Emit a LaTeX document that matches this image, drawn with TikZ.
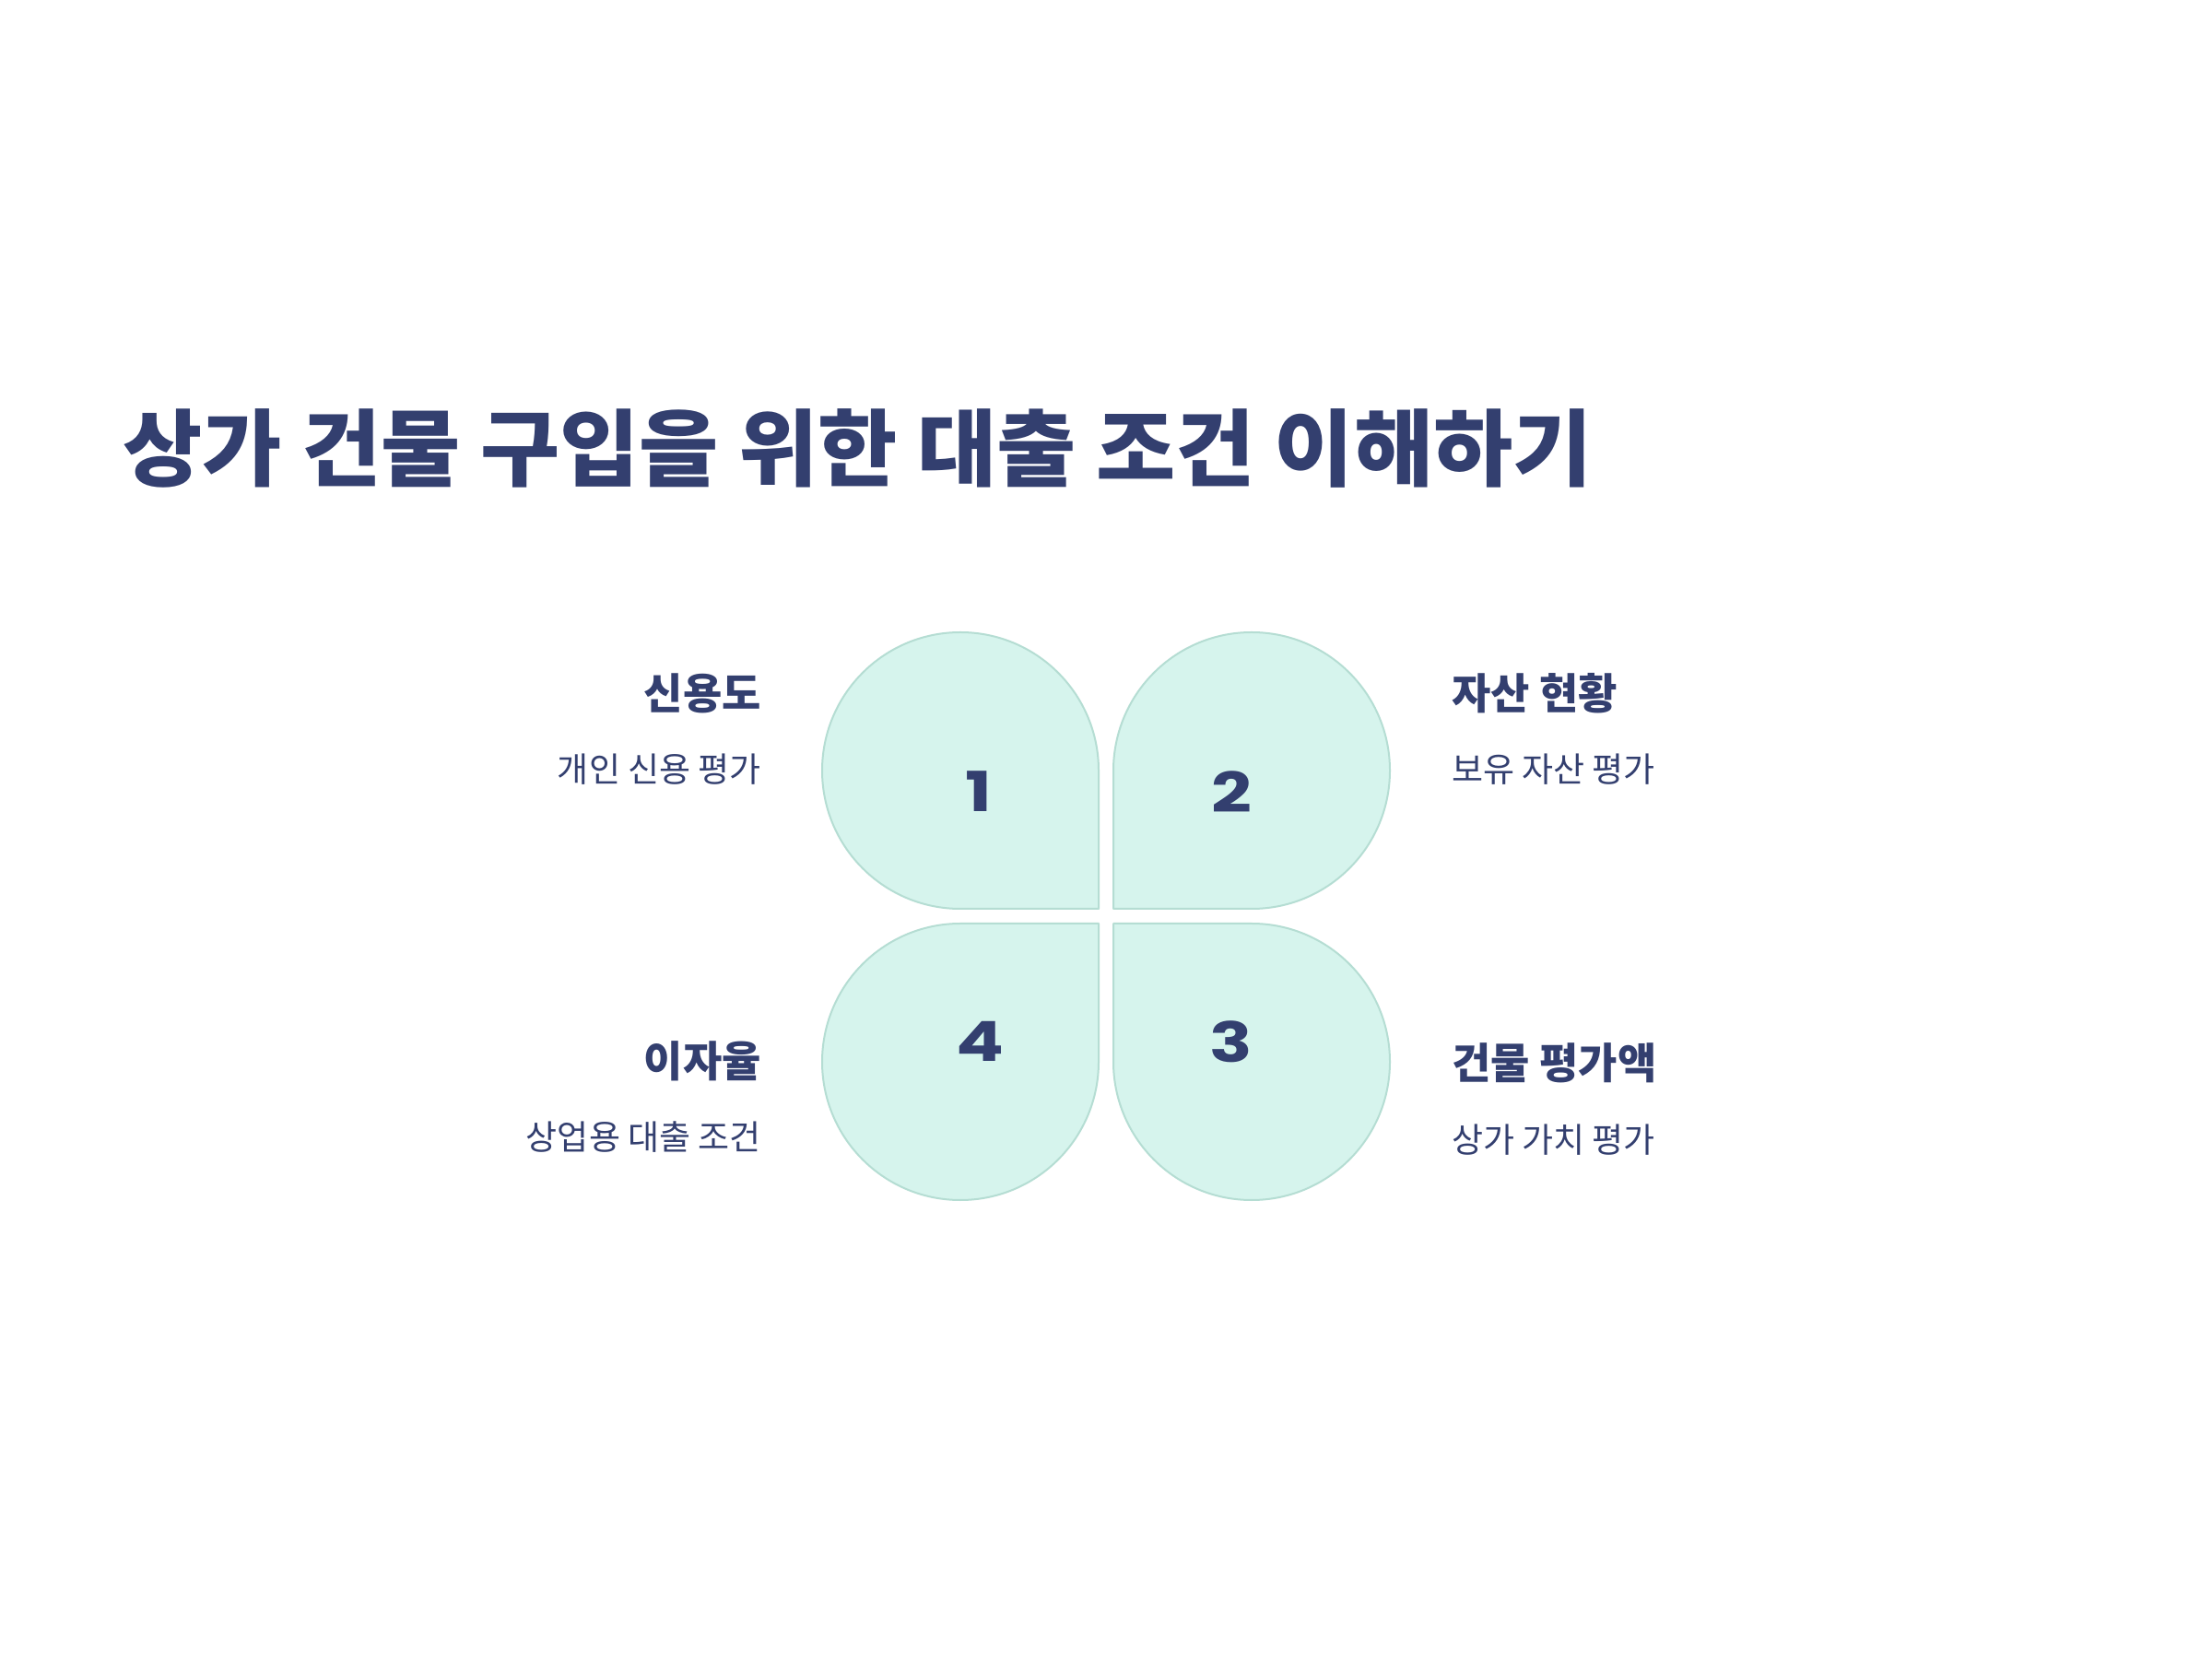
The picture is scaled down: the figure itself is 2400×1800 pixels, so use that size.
\documentclass[tikz,border=0pt]{standalone}
\usepackage{fontspec}
\newfontfamily\kr{Noto Sans CJK KR}
\newfontfamily\numf{Poppins}
\definecolor{navy}{HTML}{333F6F}
\definecolor{mint}{HTML}{D6F4ED}
\definecolor{mintline}{HTML}{B5DDD3}
\tikzset{
  petal/.style={fill=mint, draw=mintline, line width=2pt, line join=round},
  num/.style={text=navy, inner sep=0pt, font=\numf\bfseries\fontsize{60}{60}\selectfont},
  ttl/.style={text=navy, inner sep=0pt, font=\kr\bfseries\fontsize{91}{100}\selectfont},
  head/.style={text=navy, inner sep=0pt, font=\kr\bfseries\fontsize{46}{50}\selectfont},
  sub/.style={text=navy, inner sep=0pt, font=\kr\fontsize{37}{40}\selectfont}
}
\begin{document}
\begin{tikzpicture}[x=1pt,y=1pt]
\useasboundingbox (0,0) rectangle (2400,1800);
\fill[white] (0,0) rectangle (2400,1800);
% petals
\draw[petal] (1192,964) arc[start angle=0,end angle=270,radius=150] -- (1192,814) -- cycle;
\draw[petal] (1358,814) arc[start angle=-90,end angle=180,radius=150] -- (1208,814) -- cycle;
\draw[petal] (1208,648) arc[start angle=180,end angle=450,radius=150] -- (1208,798) -- cycle;
\draw[petal] (1042,798) arc[start angle=90,end angle=360,radius=150] -- (1192,798) -- cycle;
% numbers
\node[num] (n1) at (1062,941) {\scalebox{1.28}[1]{1}};
\node[num] (n2) at (1336,941) {\scalebox{1.28}[1]{2}};
\node[num] (n3) at (1336,670) {\scalebox{1.28}[1]{3}};
\node[num] (n4) at (1063,670) {\scalebox{1.28}[1]{4}};
% title
\node[ttl, anchor=west] (title) at (133,1314) {\scalebox{1.03}[1]{상가 건물 구입을 위한 대출 조건 이해하기}};
% left labels
\node[head, anchor=east] (h1) at (826,1048) {신용도};
\node[sub, anchor=east] (s1) at (826,965) {개인 신용 평가};
\node[head, anchor=east] (h4) at (826,649) {이자율};
\node[sub, anchor=east] (s4) at (826,566) {상업용 대출 조건};
% right labels
\node[head, anchor=west] (h2) at (1575,1048) {자산 현황};
\node[sub, anchor=west] (s2) at (1575,965) {보유 자산 평가};
\node[head, anchor=west] (h3) at (1575,647) {건물 평가액};
\node[sub, anchor=west] (s3) at (1575,563) {상가 가치 평가};
\end{tikzpicture}
\end{document}
